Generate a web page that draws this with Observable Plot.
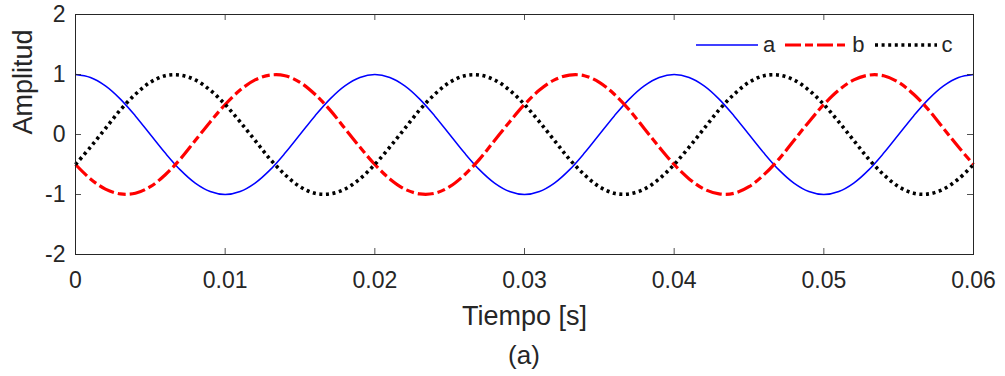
<!DOCTYPE html>
<html>
<head>
<meta charset="utf-8">
<script src="https://cdn.jsdelivr.net/npm/d3@7"></script>
<script src="https://cdn.jsdelivr.net/npm/@observablehq/plot@0.6"></script>
<style>
  html, body { margin: 0; padding: 0; background: #fff; }
  #wrap { position: relative; width: 1005px; height: 376px; font-family: "Liberation Sans", Arial, sans-serif; color: #262626; }
  #caption { position: absolute; left: 75px; width: 898px; top: 340px; text-align: center; font-size: 26px; line-height: 30px; }
  #legend { position: absolute; left: 696px; top: 32px; display: flex; align-items: center; font-size: 22px; }
  #legend svg { display: block; }
  #legend span { margin: 0 10px 0 5px; }
</style>
</head>
<body>
<div id="wrap">
  <div id="chart"></div>
  <div id="legend"></div>
  <div id="caption">(a)</div>
</div>
<script>
// time samples (s)
const time = [
  0.000,0.001,0.002,0.003,0.004,0.005,0.006,0.007,0.008,0.009,
  0.010,0.011,0.012,0.013,0.014,0.015,0.016,0.017,0.018,0.019,
  0.020,0.021,0.022,0.023,0.024,0.025,0.026,0.027,0.028,0.029,
  0.030,0.031,0.032,0.033,0.034,0.035,0.036,0.037,0.038,0.039,
  0.040,0.041,0.042,0.043,0.044,0.045,0.046,0.047,0.048,0.049,
  0.050,0.051,0.052,0.053,0.054,0.055,0.056,0.057,0.058,0.059,
  0.060
];
// series values
const seriesA = [
  1.00,0.95,0.81,0.59,0.31,0.00,-0.31,-0.59,-0.81,-0.95,
  -1.00,-0.95,-0.81,-0.59,-0.31,0.00,0.31,0.59,0.81,0.95,
  1.00,0.95,0.81,0.59,0.31,0.00,-0.31,-0.59,-0.81,-0.95,
  -1.00,-0.95,-0.81,-0.59,-0.31,0.00,0.31,0.59,0.81,0.95,
  1.00,0.95,0.81,0.59,0.31,0.00,-0.31,-0.59,-0.81,-0.95,
  -1.00,-0.95,-0.81,-0.59,-0.31,0.00,0.31,0.59,0.81,0.95,
  1.00
];
const seriesB = [
  -0.50,-0.74,-0.91,-0.99,-0.98,-0.87,-0.67,-0.41,-0.10,0.21,
  0.50,0.74,0.91,0.99,0.98,0.87,0.67,0.41,0.10,-0.21,
  -0.50,-0.74,-0.91,-0.99,-0.98,-0.87,-0.67,-0.41,-0.10,0.21,
  0.50,0.74,0.91,0.99,0.98,0.87,0.67,0.41,0.10,-0.21,
  -0.50,-0.74,-0.91,-0.99,-0.98,-0.87,-0.67,-0.41,-0.10,0.21,
  0.50,0.74,0.91,0.99,0.98,0.87,0.67,0.41,0.10,-0.21,
  -0.50
];
const seriesC = [
  -0.50,-0.21,0.10,0.41,0.67,0.87,0.98,0.99,0.91,0.74,
  0.50,0.21,-0.10,-0.41,-0.67,-0.87,-0.98,-0.99,-0.91,-0.74,
  -0.50,-0.21,0.10,0.41,0.67,0.87,0.98,0.99,0.91,0.74,
  0.50,0.21,-0.10,-0.41,-0.67,-0.87,-0.98,-0.99,-0.91,-0.74,
  -0.50,-0.21,0.10,0.41,0.67,0.87,0.98,0.99,0.91,0.74,
  0.50,0.21,-0.10,-0.41,-0.67,-0.87,-0.98,-0.99,-0.91,-0.74,
  -0.50
];
const seriesNames = ["a", "b", "c"];
const xTicks = [0, 0.01, 0.02, 0.03, 0.04, 0.05, 0.06];
const xTickLabels = ["0", "0.01", "0.02", "0.03", "0.04", "0.05", "0.06"];
const yTicks = [-2, -1, 0, 1, 2];
const yTickLabels = ["-2", "-1", "0", "1", "2"];

const styles = {
  a: {stroke: "#0000ff", strokeWidth: 1.5, dash: null},
  b: {stroke: "#ff0000", strokeWidth: 3.2, dash: "16,4,8,4"},
  c: {stroke: "#000000", strokeWidth: 3.6, dash: "3,3.6"}
};

const data = [];
[seriesA, seriesB, seriesC].forEach((vals, i) => {
  vals.forEach((v, j) => data.push({series: seriesNames[i], t: time[j], v}));
});

const frameH = 240, frameW = 898, tickLen = 6;
const axisColor = "#262626";

const lineMarks = seriesNames.map(s => Plot.line(data.filter(d => d.series === s), {
  x: "t", y: "v", curve: "catmull-rom",
  stroke: styles[s].stroke, strokeWidth: styles[s].strokeWidth,
  strokeDasharray: styles[s].dash, strokeLinecap: "butt", strokeLinejoin: "round"
}));

const chart = Plot.plot({
  width: 1005,
  height: 336,
  marginLeft: 75,
  marginRight: 32,
  marginTop: 14,
  marginBottom: 82,
  style: {fontFamily: "'Liberation Sans', Arial, sans-serif", fontSize: "23px", color: axisColor, background: "#fff"},
  x: {domain: [0, 0.06]},
  y: {domain: [-2, 2]},
  marks: [
    ...lineMarks,
    // inward ticks on all four sides
    Plot.tickX(xTicks, {x: d => d, insetTop: frameH - tickLen, stroke: axisColor, strokeWidth: 0.8}),
    Plot.tickX(xTicks, {x: d => d, insetBottom: frameH - tickLen, stroke: axisColor, strokeWidth: 0.8}),
    Plot.tickY(yTicks, {y: d => d, insetRight: frameW - tickLen, stroke: axisColor, strokeWidth: 0.8}),
    Plot.tickY(yTicks, {y: d => d, insetLeft: frameW - tickLen, stroke: axisColor, strokeWidth: 0.8}),
    Plot.frame({stroke: axisColor, strokeWidth: 1}),
    Plot.axisX({ticks: xTicks, tickFormat: (d, i) => xTickLabels[i], tickSize: 0, tickPadding: 17, label: null, fill: axisColor, fontSize: 23}),
    Plot.axisY({ticks: yTicks, tickFormat: (d, i) => yTickLabels[i], tickSize: 0, tickPadding: 10, label: null, fill: axisColor, fontSize: 23}),
    Plot.text(["Tiempo [s]"], {frameAnchor: "bottom", dy: 70, fontSize: 27, fill: axisColor}),
    Plot.text(["Amplitud"], {frameAnchor: "left", dx: -52, dy: 0, rotate: -90, fontSize: 27, fill: axisColor})
  ]
});
document.getElementById("chart").appendChild(chart);

// legend
const legend = document.getElementById("legend");
seriesNames.forEach(s => {
  const st = styles[s];
  const svg = d3.create("svg").attr("width", 62).attr("height", 24);
  const ln = svg.append("line").attr("x1", 0).attr("x2", 62).attr("y1", 12).attr("y2", 12)
    .attr("stroke", st.stroke).attr("stroke-width", st.strokeWidth);
  if (st.dash) ln.attr("stroke-dasharray", st.dash);
  legend.appendChild(svg.node());
  const sp = document.createElement("span");
  sp.textContent = s;
  legend.appendChild(sp);
});
</script>
</body>
</html>
